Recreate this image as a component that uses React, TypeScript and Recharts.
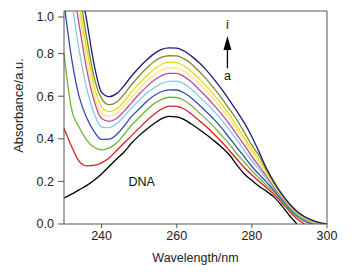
import React from 'react';
import { LineChart, Line, XAxis, YAxis, ReferenceLine, ReferenceDot, Label } from 'recharts';

const wavelengths = [230, 232, 234, 236, 238, 240, 242, 244, 246, 248, 250, 252, 254, 256, 258, 260, 262, 264, 266, 268, 270, 272, 274, 276, 278, 280, 282, 284, 286, 288, 290, 292, 294, 296, 298, 300];

const dna = [0.122, 0.14, 0.16, 0.18, 0.205, 0.235, 0.27, 0.305, 0.338, 0.38, 0.415, 0.445, 0.472, 0.495, 0.505, 0.503, 0.49, 0.468, 0.444, 0.418, 0.39, 0.36, 0.325, 0.278, 0.235, 0.205, 0.176, 0.152, 0.125, 0.085, 0.04, 0.0, null, null, null, null];
const curveA = [0.45, 0.365, 0.295, 0.273, 0.275, 0.287, 0.31, 0.345, 0.38, 0.415, 0.45, 0.485, 0.515, 0.54, 0.553, 0.552, 0.54, 0.515, 0.485, 0.455, 0.42, 0.385, 0.345, 0.305, 0.265, 0.23, 0.2, 0.168, 0.138, 0.1, 0.06, 0.025, 0, null, null, null];
const curveB = [0.8, 0.54, 0.455, 0.395, 0.36, 0.348, 0.356, 0.38, 0.42, 0.465, 0.5, 0.535, 0.565, 0.585, 0.595, 0.594, 0.58, 0.555, 0.522, 0.49, 0.455, 0.415, 0.375, 0.33, 0.29, 0.25, 0.215, 0.18, 0.148, 0.108, 0.068, 0.035, 0.012, 0, null, null];
const curveC = [1.04, 0.78, 0.6, 0.5, 0.435, 0.397, 0.398, 0.42, 0.46, 0.505, 0.54, 0.575, 0.603, 0.622, 0.63, 0.629, 0.615, 0.59, 0.559, 0.525, 0.49, 0.45, 0.405, 0.36, 0.315, 0.27, 0.232, 0.194, 0.157, 0.115, 0.074, 0.04, 0.016, 0.004, 0, null];
const curveD = [1.25, 1.05, 0.82, 0.64, 0.52, 0.455, 0.452, 0.47, 0.505, 0.545, 0.58, 0.615, 0.64, 0.66, 0.67, 0.671, 0.658, 0.632, 0.598, 0.565, 0.528, 0.488, 0.442, 0.395, 0.345, 0.298, 0.255, 0.21, 0.165, 0.122, 0.08, 0.045, 0.02, 0.006, 0, null];
const curveE = [1.35, 1.15, 0.94, 0.73, 0.58, 0.495, 0.482, 0.495, 0.53, 0.57, 0.61, 0.645, 0.675, 0.697, 0.707, 0.707, 0.692, 0.665, 0.63, 0.595, 0.556, 0.515, 0.47, 0.42, 0.37, 0.318, 0.27, 0.222, 0.172, 0.127, 0.085, 0.05, 0.024, 0.008, 0.001, 0];
const curveF = [1.4, 1.2, 1.0, 0.78, 0.61, 0.52, 0.506, 0.52, 0.555, 0.595, 0.635, 0.67, 0.7, 0.722, 0.733, 0.732, 0.717, 0.69, 0.66, 0.623, 0.583, 0.54, 0.493, 0.443, 0.39, 0.335, 0.285, 0.232, 0.178, 0.131, 0.088, 0.053, 0.027, 0.01, 0.002, 0];
const curveG = [1.45, 1.25, 1.04, 0.83, 0.65, 0.55, 0.528, 0.54, 0.575, 0.62, 0.66, 0.695, 0.727, 0.75, 0.76, 0.758, 0.742, 0.715, 0.682, 0.645, 0.605, 0.56, 0.512, 0.46, 0.405, 0.35, 0.3, 0.243, 0.184, 0.135, 0.09, 0.056, 0.03, 0.013, 0.004, 0];
const curveH = [1.5, 1.3, 1.1, 0.88, 0.69, 0.59, 0.56, 0.572, 0.61, 0.655, 0.695, 0.732, 0.763, 0.783, 0.79, 0.789, 0.775, 0.75, 0.716, 0.678, 0.636, 0.59, 0.54, 0.49, 0.43, 0.37, 0.318, 0.25, 0.19, 0.138, 0.093, 0.058, 0.033, 0.016, 0.006, 0];
const curveI = [1.55, 1.35, 1.15, 0.96, 0.75, 0.618, 0.598, 0.612, 0.65, 0.695, 0.735, 0.77, 0.8, 0.82, 0.827, 0.826, 0.812, 0.787, 0.757, 0.72, 0.678, 0.632, 0.582, 0.53, 0.475, 0.41, 0.335, 0.258, 0.195, 0.14, 0.095, 0.06, 0.035, 0.018, 0.006, 0];

const seriesKeys = ['dna', 'a', 'b', 'c', 'd', 'e', 'f', 'g', 'h', 'i'];
const seriesValues = [dna, curveA, curveB, curveC, curveD, curveE, curveF, curveG, curveH, curveI];
const seriesColors = ['#000000', '#d8201e', '#74b234', '#2c4cb0', '#86c8ee', '#c246a6', '#f2ec6a', '#e8d81a', '#7c8a2c', '#1c1c78'];

const xTicks = [240, 260, 280, 300];
const yTicks = [0, 0.1, 0.2, 0.3, 0.4, 0.5, 0.6, 0.7, 0.8, 0.9, 1.0];

// annotation anchors (data coords)
const arrowX = 273.5;
const arrowTail = 0.731;
const arrowHeadY = 0.85;
const labelTopY = 0.938;
const labelBottomY = 0.695;
const dnaLabel = { x: 250.7, y: 0.197 };

const data = wavelengths.map((w, idx) => {
  const row: Record<string, number | null> = { w };
  seriesKeys.forEach((k, s) => {
    row[k] = seriesValues[s][idx];
  });
  return row;
});

const font = '"Liberation Sans", Arial, sans-serif';
const axisColor = '#555';

const YTick = (props: any) => {
  const { x, y, payload } = props;
  const v = payload.value;
  const major = Math.round(v * 10) % 2 === 0;
  const axisX = x + 10;
  return (
    <g>
      <line x1={axisX - (major ? 6 : 3)} x2={axisX} y1={y} y2={y} stroke={axisColor} />
      {major && (
        <text x={x} y={y} dy="0.35em" textAnchor="end" fontSize={12.5} fill="#222" fontFamily={font}>
          {v.toFixed(1)}
        </text>
      )}
    </g>
  );
};

const Arrowhead = (props: any) => {
  const { cx, cy } = props;
  return <path d={`M${cx},${cy - 7} L${cx + 4},${cy + 7} L${cx - 4},${cy + 7} Z`} fill="#000" />;
};

export default function App() {
  return (
    <div style={{ width: 350, height: 264, background: '#fff' }}>
      <LineChart width={350} height={264} data={data} margin={{ top: 3, right: 31, bottom: 0, left: 0 }}>
        <XAxis
          dataKey="w"
          type="number"
          domain={[230, 300]}
          ticks={xTicks}
          height={48}
          tickSize={4}
          tickMargin={3}
          stroke={axisColor}
          tick={{ fontSize: 12.5, fill: '#222', fontFamily: font }}
        >
          <Label
            content={(p: any) => {
              const vb = p.viewBox;
              return (
                <text x={vb.x + vb.width / 2} y={vb.y + 38} textAnchor="middle" fontSize={12.5} fill="#222" fontFamily={font}>
                  Wavelength/nm
                </text>
              );
            }}
          />
        </XAxis>
        <YAxis
          type="number"
          domain={[0, 1]}
          allowDataOverflow
          ticks={yTicks}
          width={56}
          tickSize={6}
          tickMargin={4}
          tickLine={false}
          stroke={axisColor}
          tick={<YTick />}
        >
          <Label
            content={(p: any) => {
              const vb = p.viewBox;
              const cx = vb.x + 10;
              const cy = vb.y + vb.height / 2 - 12;
              return (
                <text x={cx} y={cy} transform={`rotate(-90, ${cx}, ${cy})`} textAnchor="middle" dominantBaseline="central" fontSize={13} fill="#222" fontFamily={font}>
                  Absorbance/a.u.
                </text>
              );
            }}
          />
        </YAxis>
        <ReferenceLine y={1} stroke={axisColor} />
        <ReferenceLine x={300} stroke={axisColor} />
        {seriesKeys.map((k, s) => (
          <Line
            key={k}
            dataKey={k}
            type="monotone"
            stroke={seriesColors[s]}
            strokeWidth={1.3}
            dot={false}
            isAnimationActive={false}
          />
        ))}
        <ReferenceLine segment={[{ x: arrowX, y: arrowTail }, { x: arrowX, y: arrowHeadY }]} stroke="#000" strokeWidth={1.3} />
        <ReferenceDot x={arrowX} y={arrowHeadY} r={0} shape={<Arrowhead />} />
        <ReferenceDot x={arrowX} y={labelTopY} r={0} stroke="none" label={{ value: 'i', position: 'center', fontSize: 12.5, fill: '#111', fontFamily: font }} />
        <ReferenceDot x={arrowX} y={labelBottomY} r={0} stroke="none" label={{ value: 'a', position: 'center', fontSize: 12.5, fill: '#111', fontFamily: font }} />
        <ReferenceDot x={dnaLabel.x} y={dnaLabel.y} r={0} stroke="none" label={{ value: 'DNA', position: 'center', fontSize: 12.5, fill: '#111', fontFamily: font }} />
      </LineChart>
    </div>
  );
}
